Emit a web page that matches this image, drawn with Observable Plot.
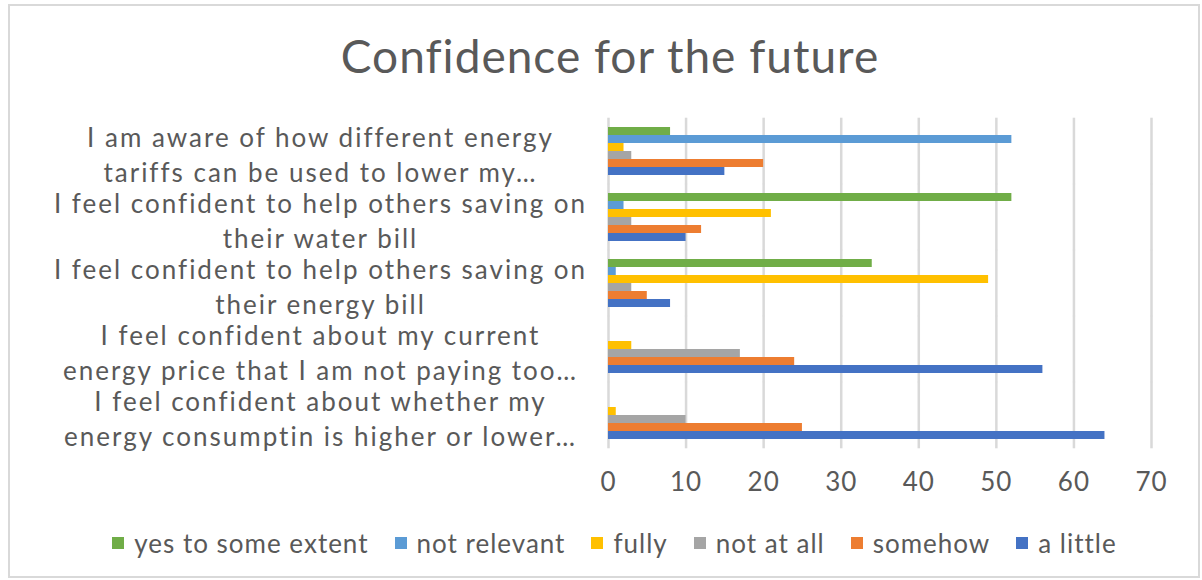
<!DOCTYPE html>
<html><head><meta charset="utf-8">
<script src="https://cdn.jsdelivr.net/npm/d3@7"></script>
<script src="https://cdn.jsdelivr.net/npm/@observablehq/plot@0.6"></script>
<style>
body{margin:0;background:#fff;}
#wrap{position:relative;width:1202px;height:580px;overflow:hidden;font-family:Lato,"Open Sans",sans-serif;color:#595959;background:#fff;}
#frame{position:absolute;left:8px;top:4px;width:1192px;height:574px;border:2px solid #d9d9d9;box-sizing:border-box;}
#title{position:absolute;left:0;width:1220px;top:33px;line-height:46px;text-align:center;font-size:46px;letter-spacing:1px;white-space:nowrap;}
#chart{position:absolute;left:0;top:0;}
#chart g[aria-label="fy-axis tick label"] text{letter-spacing:2px;}
#chart g[aria-label="x-axis tick label"] text{letter-spacing:1px;}
#legend{position:absolute;left:0;width:1229px;top:528px;display:flex;justify-content:center;gap:26px;font-size:26px;letter-spacing:1px;line-height:30px;white-space:nowrap;}
#legend .item{display:flex;align-items:center;gap:10px;}
#legend .sw{width:12px;height:12px;display:inline-block;}
</style></head>
<body>
<div id="wrap">
  <div id="frame"></div>
  <div id="title"></div>
  <div id="chart"></div>
  <div id="legend"></div>
</div>
<script>
const title = "Confidence for the future";
const categories = [
  "I am aware of how different energy\ntariffs can be used to lower my…",
  "I feel confident to help others saving on\ntheir water bill",
  "I feel confident to help others saving on\ntheir energy bill",
  "I feel confident about my current\nenergy price that I am not paying too…",
  "I feel confident about whether my\nenergy consumptin is higher or lower…"
];
const series = ["yes to some extent", "not relevant", "fully", "not at all", "somehow", "a little"];
const colors = ["#70AD47", "#5B9BD5", "#FFC000", "#A5A5A5", "#ED7D31", "#4472C4"];
const yesToSomeExtent = [8, 52, 34, 0, 0];
const notRelevant = [52, 2, 1, 0, 0];
const fully = [2, 21, 49, 3, 1];
const notAtAll = [3, 3, 3, 17, 10];
const somehow = [20, 12, 5, 24, 25];
const aLittle = [15, 10, 8, 56, 64];
const xTicks = [0, 10, 20, 30, 40, 50, 60, 70];

const seriesValues = [yesToSomeExtent, notRelevant, fully, notAtAll, somehow, aLittle];
const data = [];
categories.forEach((c, i) => series.forEach((s, j) => data.push({category: c, series: s, value: seriesValues[j][i]})));

document.getElementById("title").textContent = title;

const W = 1202, H = 510;
const chart = Plot.plot({
  width: W, height: H,
  marginLeft: 608, marginRight: 51, marginTop: 116, marginBottom: 61,
  style: {fontFamily: "Lato, 'Open Sans', sans-serif", color: "#595959", background: "transparent"},
  x: {domain: [0, 70]},
  y: {domain: series, axis: null, padding: 0},
  fy: {domain: categories, paddingInner: 0.216, paddingOuter: 0.12},
  color: {domain: series, range: colors},
  marks: [
    Plot.ruleX(xTicks, {x: d => d, stroke: "#d9d9d9", strokeWidth: 2.5, insetTop: -7.3, insetBottom: -7.3}),
    Plot.barX(data, {x: "value", y: "series", fy: "category", fill: "series"}),
    Plot.axisX(xTicks, {tickSize: 0, tickPadding: 31, fontSize: 26, fill: "#595959", label: null}),
    Plot.axisFy({anchor: "left", tickSize: 0, tickPadding: 0, dx: -288, dy: 2, textAnchor: "middle", lineHeight: 1.33, fontSize: 26, fill: "#595959", label: null})
  ]
});
document.getElementById("chart").appendChild(chart);

const legend = document.getElementById("legend");
series.forEach((s, i) => {
  const item = document.createElement("div");
  item.className = "item";
  const sw = document.createElement("span");
  sw.className = "sw";
  sw.style.background = colors[i];
  const t = document.createElement("span");
  t.textContent = s;
  item.appendChild(sw); item.appendChild(t);
  legend.appendChild(item);
});
</script>
</body></html>
